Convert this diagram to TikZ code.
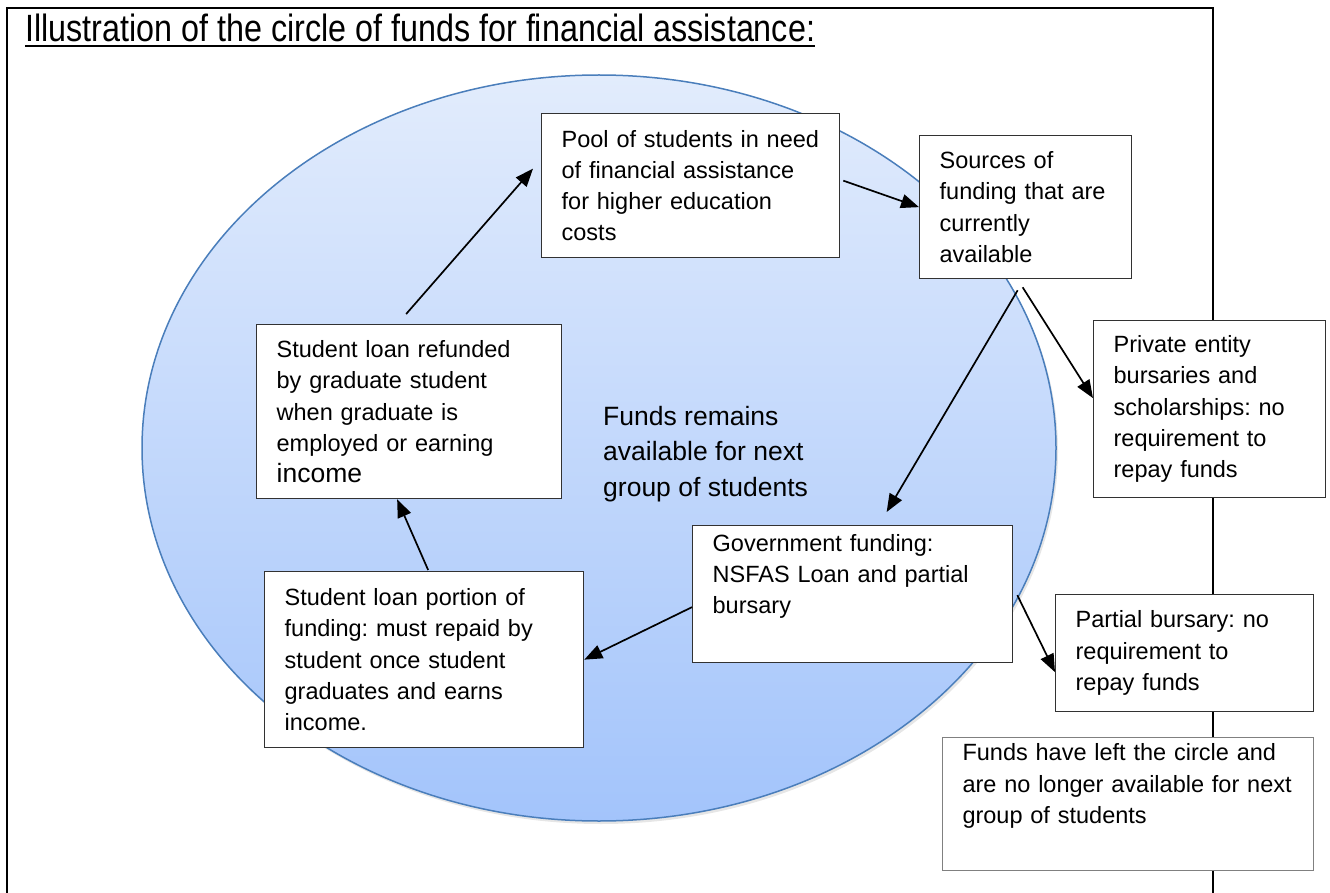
\documentclass[tikz,border=0pt]{standalone}
\usepackage{fontspec}
\setmainfont{Liberation Sans}
\newfontfamily\titlefont[FakeStretch=0.85]{Liberation Sans}
\usetikzlibrary{arrows.meta,shadows}
\frenchspacing

\definecolor{ringline}{RGB}{74,126,187}
\definecolor{ringtop}{RGB}{226,236,252}
\definecolor{ringbottom}{RGB}{163,196,251}
\definecolor{boxline}{RGB}{50,50,50}
\definecolor{greyline}{RGB}{128,128,128}

\begin{document}
\begin{tikzpicture}[x=1pt, y=-1pt,
    frame/.style={line width=2pt},
    textbox/.style={draw=boxline, fill=white, line width=1.3pt, anchor=north west,
        align=left, inner xsep=20pt, inner ysep=0pt,
        font=\fontsize{23.5}{31.3}\selectfont},
    flow/.style={line width=1.7pt, -{Triangle[length=18pt,width=14pt]}}]
\useasboundingbox (0,0) rectangle (1330,893);
\draw[frame] (7,893) -- (7,8) -- (1213,8) -- (1213,893);
\path[draw=ringline, line width=1.5pt, top color=ringtop, bottom color=ringbottom,
    drop shadow={shadow xshift=2pt, shadow yshift=-3pt, opacity=0.2}]
    (599,448) ellipse [x radius=457pt, y radius=373pt];

\node [anchor=base west, inner sep=0pt, font=\titlefont\fontsize{38}{40}\selectfont] (title) at (25,42)
    {Illustration of the circle of funds for financial assistance:};
\draw [line width=1.8pt] ([yshift=-4pt]title.base west) -- ([yshift=-4pt]title.base east);

\node [textbox, text width=258pt, minimum height=144pt] (pool) at (541,113)
    {Pool of students in need\\of financial assistance\\for higher education\\costs};
\node [textbox, text width=172pt, minimum height=143pt] (src) at (919,135)
    {Sources of\\funding that are\\currently\\available};
\node [textbox, text width=192pt, minimum height=177pt] (prv) at (1093,320)
    {Private entity\\bursaries and\\scholarships: no\\requirement to\\repay funds};
\node [textbox, text width=280pt, minimum height=137pt] (gov) at (692,525)
    {Government funding:\\NSFAS Loan and partial\\bursary\\ \strut};
\node [textbox, text width=218pt, minimum height=117pt] (par) at (1055,594)
    {Partial bursary: no\\requirement to\\repay funds};
\node [textbox, draw=greyline, line width=1pt, text width=331pt, minimum height=133pt] (gone) at (942,737)
    {Funds have left the circle and\\are no longer available for next\\group of students\\ \strut};
\node [textbox, text width=265pt, minimum height=174pt] (ref) at (256,324)
    {Student loan refunded\\by graduate student\\when graduate is\\employed or earning\\{\fontsize{26.5}{31.3}\selectfont income}};
\node [textbox, text width=279pt, minimum height=176pt] (por) at (264,571)
    {Student loan portion of\\funding: must repaid by\\student once student\\graduates and earns\\income.};

\node [anchor=west, align=left, inner sep=0pt, font=\fontsize{26.5}{35.5}\selectfont] (kept) at (603,454)
    {Funds remains\\available for next\\group of students};

\draw [flow] ([xshift=3pt,yshift=5pt]pool.east) -- (src.west);
\draw [flow] ([xshift=-3pt,yshift=-8pt]src.south) -- ([yshift=11pt]prv.west);
\draw [flow] ([xshift=-8pt,yshift=-11pt]src.south) -- ([xshift=34pt,yshift=13pt]gov.north);
\draw [flow] ([xshift=4pt,yshift=-1pt]gov.east) -- ([yshift=-19pt]par.west);
\draw [flow] ([yshift=-13pt]gov.west) -- (por.east);
\draw [flow] ([xshift=4pt,yshift=1pt]por.north) -- ([xshift=-12pt]ref.south);
\draw [flow] ([xshift=-3pt,yshift=10pt]ref.north) -- ([xshift=-8pt,yshift=17pt]pool.west);
\end{tikzpicture}
\end{document}
